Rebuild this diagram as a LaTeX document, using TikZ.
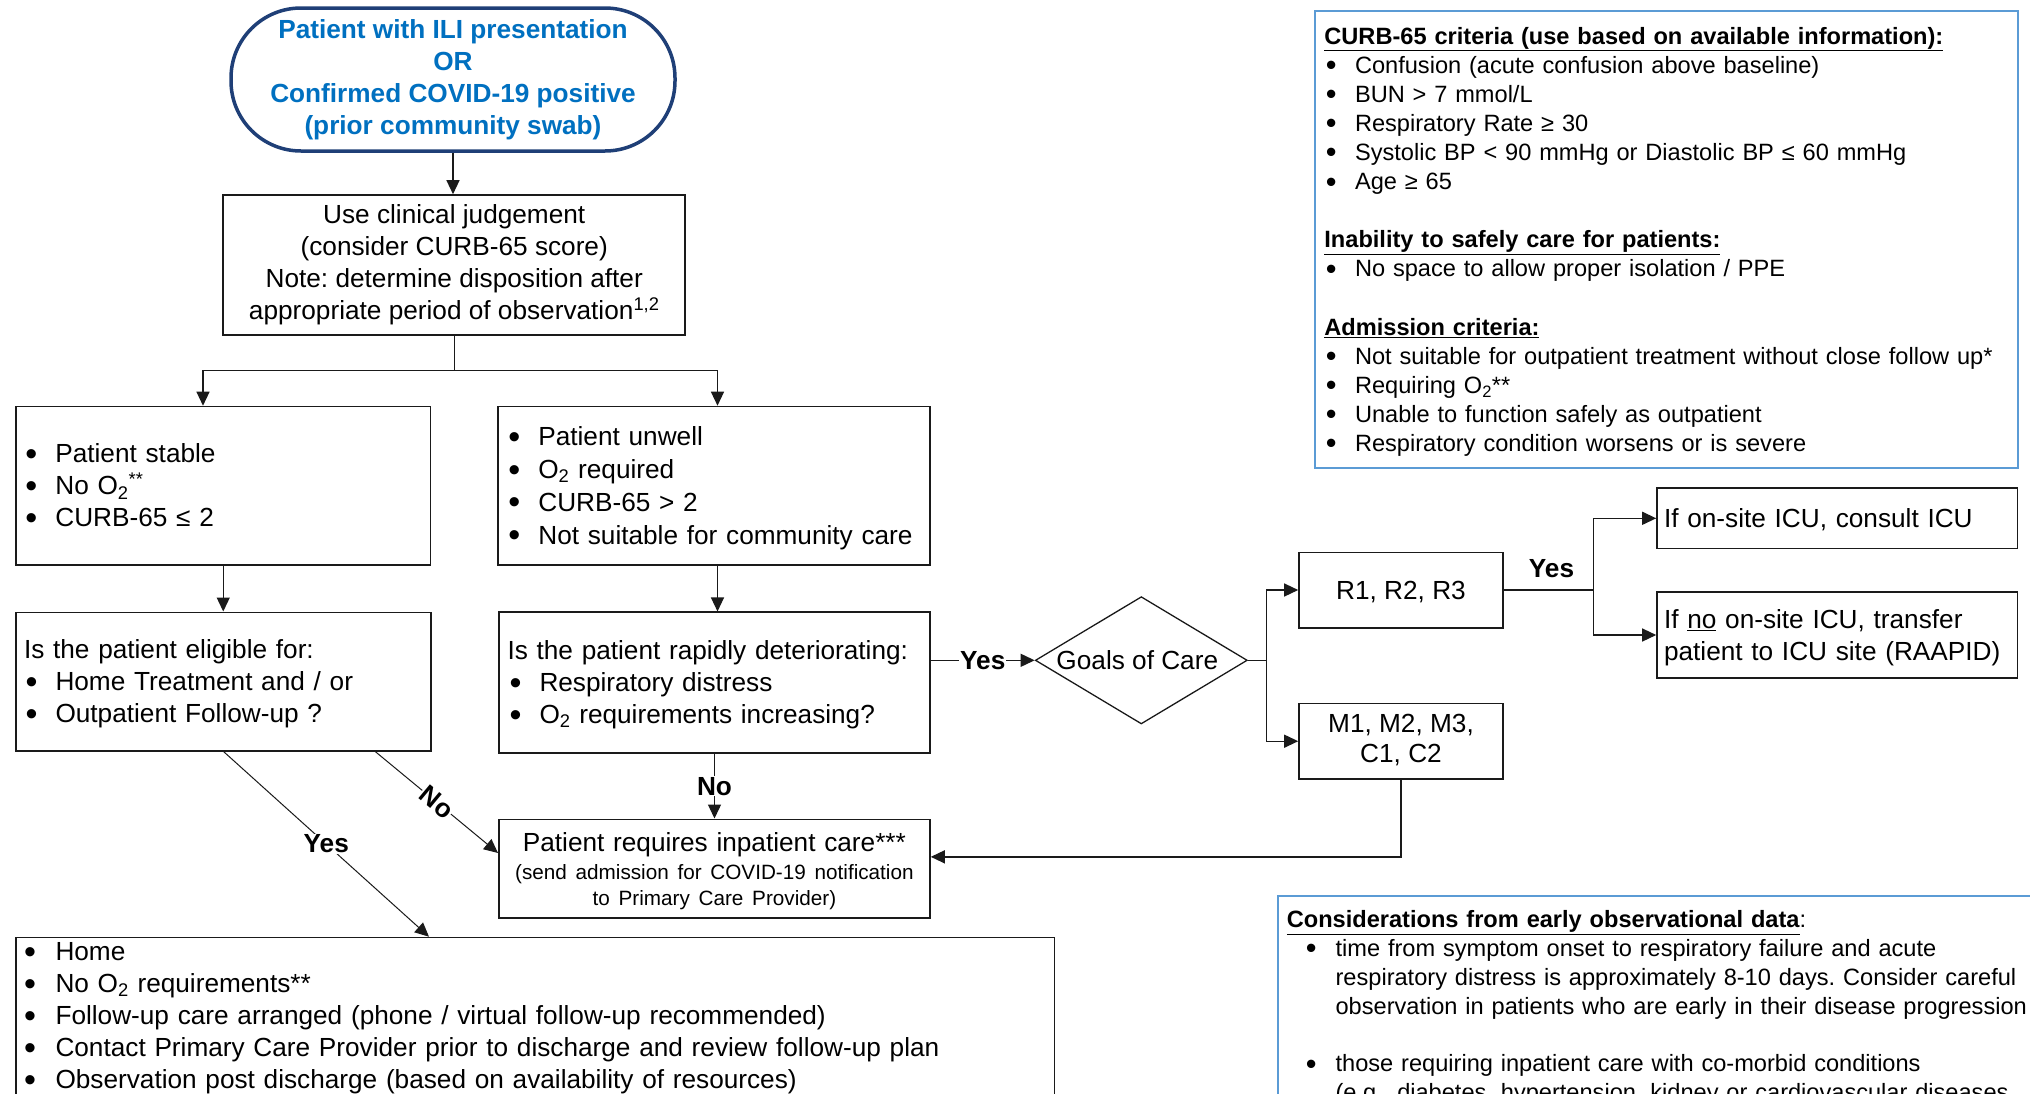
\documentclass[tikz,border=0pt]{standalone}
\usepackage{fontspec}
\usepackage{graphicx}
\setmainfont{Liberation Sans}
\usetikzlibrary{arrows.meta,shapes.geometric,calc}
\definecolor{navyb}{HTML}{1F3F77}
\definecolor{tblue}{HTML}{0070C0}
\definecolor{lblue}{HTML}{5B9BD5}
\definecolor{boxc}{HTML}{1A1A1A}
\newcommand\fmain{\fontsize{26.2pt}{32pt}\selectfont}
\newcommand\fcurb{\fontsize{23.6pt}{29.09pt}\selectfont}
\newcommand\fcons{\fontsize{23.6pt}{28.8pt}\selectfont}
\newcommand\fsmall{\fontsize{20.7pt}{25.7pt}\selectfont}
\newcommand\tp{\rule{0pt}{0.905em}}
\newcommand\bt{\rule[-0.212em]{0pt}{0pt}}
\newcommand\bigbul{\raisebox{-0.1em}{\scalebox{1.3}{\textbullet}}}
\newcommand\mybul{\makebox[30pt][l]{\bigbul}}
\newcommand\hbul{\makebox[31.3pt][l]{\bigbul}}
\newcommand\cbul{\hspace*{1.4pt}\makebox[29.2pt][l]{\bigbul}}
\newcommand\kbul{\hspace*{19pt}\makebox[29.8pt][l]{\bigbul}}
\newcommand\kind{\hspace*{48.8pt}}
\begin{document}
\frenchspacing
\begin{tikzpicture}[x=1pt,y=-1pt,
  box/.style={draw=boxc, line width=1.6pt, rectangle, inner ysep=0pt, font=\fmain},
  ctr/.style={execute at begin node={\tp}, execute at end node={\bt}},
  lbox/.style={box, ctr, align=left},
  arr/.style={line width=1.3pt, draw=boxc, -{Triangle[length=14pt,width=13pt]}},
  arrthin/.style={line width=1.0pt, draw=boxc, -{Triangle[length=14pt,width=13pt]}},
  ln/.style={line width=1.3pt, draw=boxc},
  lbl/.style={font=\fmain\bfseries, fill=white, inner sep=1pt},
  infobox/.style={draw=lblue, line width=2pt, rectangle, align=left}
]
\useasboundingbox (0,0) rectangle (2030,1093);
\clip (0,0) rectangle (2030,1093);
\fill[white] (0,0) rectangle (2030,1093);

% start terminal
\node[draw=navyb, line width=3.5pt, rectangle, rounded corners=70pt, ctr,
      minimum width=444pt, minimum height=143pt, inner sep=0pt, align=center,
      font=\fmain\bfseries, text=tblue] (start) at (453,79.5)
  {Patient with ILI presentation\\OR\\Confirmed COVID-19 positive\\(prior community swab)};

\node[box, minimum width=462pt, minimum height=140pt, align=center,
      execute at begin node={\rule{0pt}{1.1em}}, execute at end node={\bt}] (judge) at (454.25,265)
  {Use clinical judgement\\(consider CURB-65 score)\\Note: determine disposition after\\appropriate period of observation\textsuperscript{1,2}};

\node[lbox, inner xsep=9.35pt, text width=395.8pt, minimum height=158.5pt] (stable) at (223.25,485.75)
  {\mybul Patient stable\\\mybul No O\textsubscript{2}\textsuperscript{**}\\\mybul CURB-65 ≤ 2};

\node[lbox, inner xsep=10.35pt, text width=411.3pt, minimum height=158.5pt,
      font=\fontsize{26.2pt}{32.8pt}\selectfont] (unwell) at (714,485.75)
  {\mybul Patient unwell\\\mybul O\textsubscript{2} required\\\mybul CURB-65 > 2\\\mybul Not suitable for community care};

\node[lbox, inner xsep=8pt, text width=399pt, minimum height=138.4pt] (elig) at (223.5,681.5)
  {Is the patient eligible for:\\\hspace*{1.5pt}\mybul Home Treatment and / or\\\hspace*{1.5pt}\mybul Outpatient Follow-up ?};

\node[lbox, inner xsep=8.5pt, text width=414pt, minimum height=140.7pt] (rapid) at (714.5,682.6)
  {Is the patient rapidly deteriorating:\\\hspace*{2pt}\mybul Respiratory distress\\\hspace*{2pt}\mybul O\textsubscript{2} requirements increasing?};

\node[box, minimum width=431.2pt, minimum height=98.4pt, inner xsep=4pt, text width=423.2pt, align=center] (inpatient) at (714.4,868.5)
  {\tp Patient requires inpatient care***\\[2.6pt]{\fsmall (send admission for COVID-19 notification\\to Primary Care Provider)\bt\par}};

\node[box, align=left, anchor=north west, inner xsep=8pt, inner ysep=2.2pt, text width=1022.3pt] (home) at (15.4,936.7)
  {\rule{0pt}{21pt}\hbul Home\\\hbul No O\textsubscript{2} requirements**\\\hbul Follow-up care arranged (phone / virtual follow-up recommended)\\\hbul Contact Primary Care Provider prior to discharge and review follow-up plan\\\hbul Observation post discharge (based on availability of resources)\strut};

\node[draw=boxc, line width=1.3pt, diamond, aspect=1.665, minimum width=212pt, minimum height=127.3pt,
      inner sep=0pt, font=\fmain, ctr] (dia) at (1141.3,660.3) {\hspace*{-8pt}Goals of Care};

\node[box, ctr, minimum width=204pt, minimum height=75.4pt, align=center] (R) at (1401,590) {R1, R2, R3};
\node[box, ctr, minimum width=204pt, minimum height=75.7pt, align=center, font=\fontsize{26.2pt}{30.5pt}\selectfont] (M) at (1401,741.2) {M1, M2, M3,\\C1, C2};

\node[lbox, inner xsep=7pt, text width=346.6pt, minimum height=60.7pt] (icu1) at (1837.3,518.3)
  {If on-site ICU, consult ICU};
\node[lbox, inner xsep=7pt, text width=346.6pt, minimum height=86pt] (icu2) at (1837.3,635)
  {If \underline{no} on-site ICU, transfer\\patient to ICU site (RAAPID)};

% CURB-65 info box
\node[infobox, ctr, inner xsep=9.4pt, inner ysep=0pt, text width=684.2pt, minimum height=457.3pt, font=\fcurb] (curb) at (1666.5,239.65)
  {\underline{\textbf{CURB-65 criteria (use based on available information):}}\\
   \cbul Confusion (acute confusion above baseline)\\
   \cbul BUN > 7 mmol/L\\
   \cbul Respiratory Rate ≥ 30\\
   \cbul Systolic BP < 90 mmHg or Diastolic BP ≤ 60 mmHg\\
   \cbul Age ≥ 65\\[29.09pt]
   \underline{\textbf{Inability to safely care for patients:}}\\
   \cbul No space to allow proper isolation / PPE\\[29.09pt]
   \underline{\textbf{Admission criteria:}}\\
   \cbul Not suitable for outpatient treatment without close follow up*\\
   \cbul Requiring O\textsubscript{2}**\\
   \cbul Unable to function safely as outpatient\\
   \cbul Respiratory condition worsens or is severe};

% Considerations box
\node[infobox, anchor=north west, inner xsep=8.8pt, inner ysep=12pt, text width=805pt, font=\fcons] (cons) at (1277,894.5)
  {\strut\underline{\textbf{Considerations from early observational data}}:\\
   \kbul time from symptom onset to respiratory failure and acute\\
   \kind respiratory distress is approximately 8-10 days. Consider careful\\
   \kind observation in patients who are early in their disease progression\\[28.8pt]
   \kbul those requiring inpatient care with co-morbid conditions\\
   \kind (e.g., diabetes, hypertension, kidney or cardiovascular diseases\strut};

% connectors
\draw[arr] (start.south) -- (start.south |- judge.north);
\coordinate (sl) at (203,370.7);
\coordinate (sr) at (717.5,370.7);
\draw[ln] (judge.south) -- (judge.south |- sl);
\draw[arr] (judge.south |- sl) -- (sl) -- (sl |- stable.north);
\draw[arr] (judge.south |- sl) -- (sr) -- (sr |- unwell.north);
\draw[arr] (stable.south) -- (stable.south |- elig.north);
\draw[arr] (sr |- unwell.south) -- (sr |- rapid.north);
\draw[arr] (rapid.south) -- (rapid.south |- inpatient.north) node[lbl, midway] {No};
\draw[arr] (rapid.east |- dia.west) -- (dia.west) node[lbl, midway] {Yes};

\coordinate (dj) at ($(dia.east)+(18.4,0)$);
\draw[ln] (dia.east) -- (dj);
\draw[arr] (dj) |- (R.west);
\draw[arr] (dj) |- (M.west);

\coordinate (rj) at ($(R.east)+(90,0)$);
\draw[ln] (R.east) -- (rj) node[font=\fmain\bfseries, midway, yshift=21pt, xshift=2.7pt] {Yes};
\draw[arr] (rj) |- (icu1.west);
\draw[arr] (rj) |- (icu2.west);

\coordinate (mc) at ($(M.south)+(0,77)$);
\draw[arr] (M.south) -- (mc) -- (mc -| inpatient.east);

\draw[arrthin] ($(elig.south west)+(360,0)$) -- ($(inpatient.west)+(0,-15.5)$)
  node[lbl, midway, rotate=-39.8] {No};
\draw[arrthin] (elig.south) -- ($(home.north west)+(413.6,0)$)
  node[lbl, midway] {Yes};
\end{tikzpicture}
\end{document}
